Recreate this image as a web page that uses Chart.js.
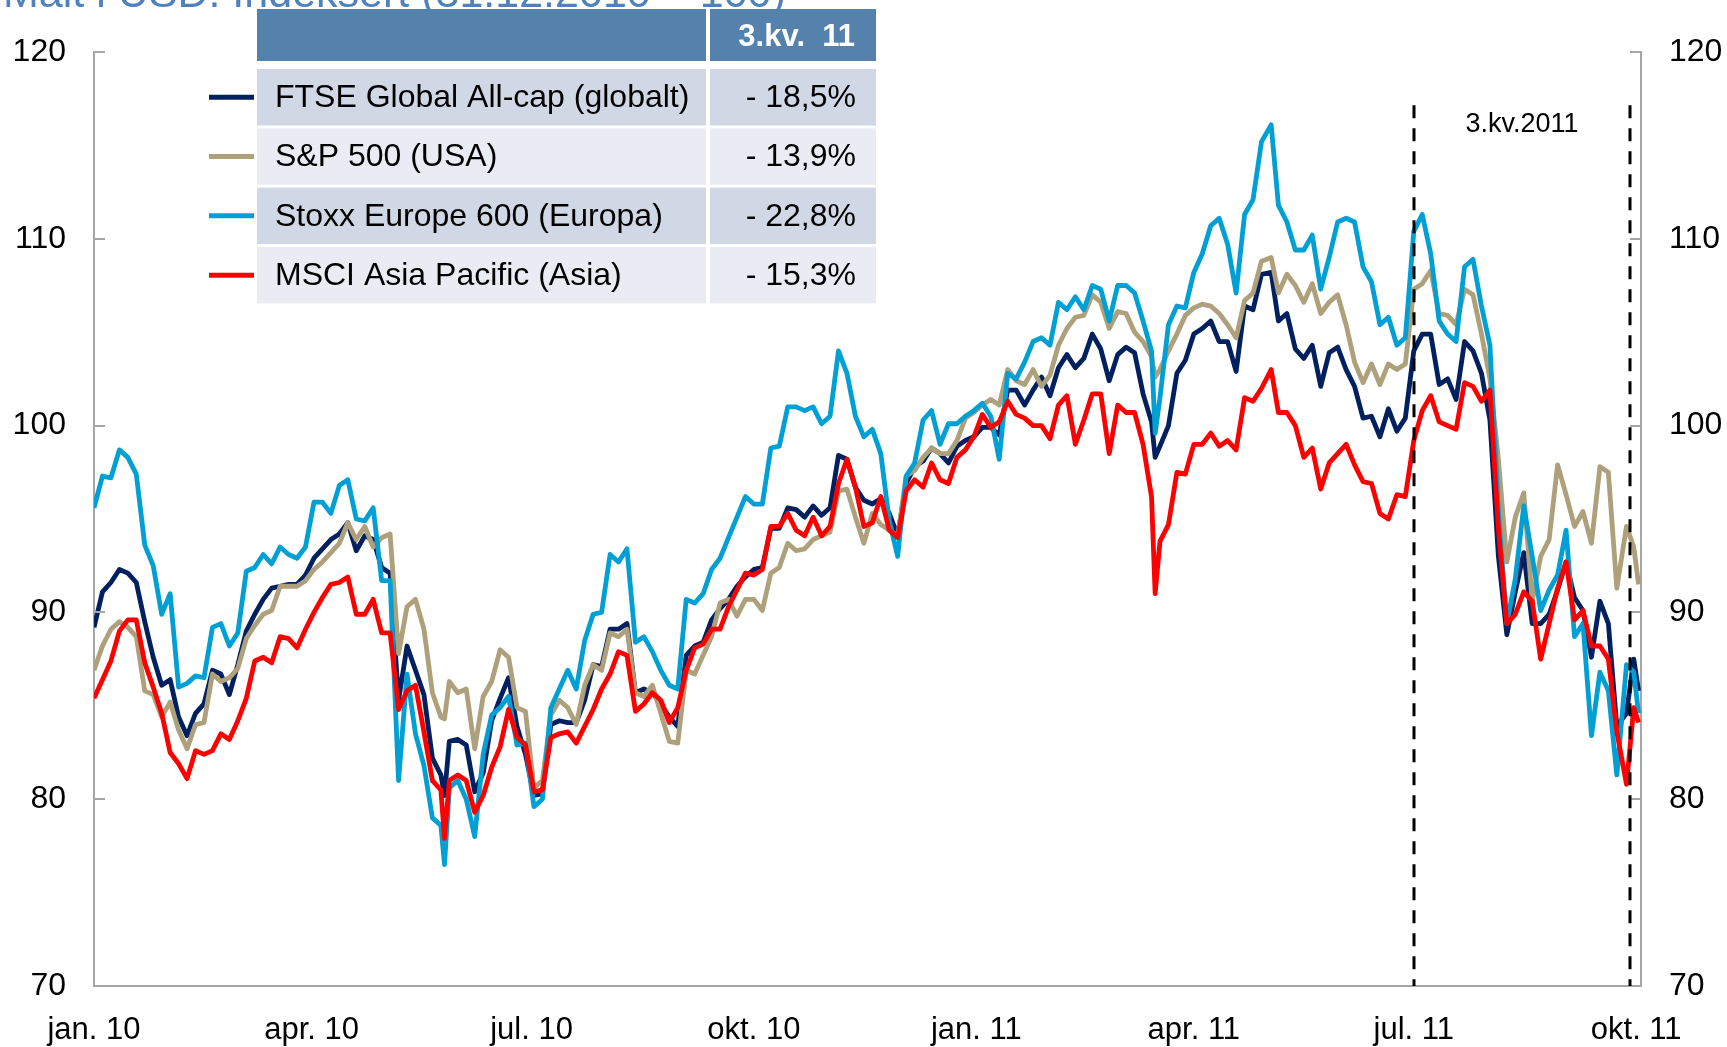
<!DOCTYPE html>
<html lang="no">
<head>
<meta charset="UTF-8">
<title>Aksjeindekser</title>
<style>
  html, body { margin: 0; padding: 0; background: #fff; }
</style>
</head>
<body>
<canvas id="chart" width="1727" height="1047"></canvas>
<script src="https://cdn.jsdelivr.net/npm/chart.js"></script>
<script>
// days since 1 Jan 2010 (about twice a week)
const days = [0, 3.5, 7, 10.5, 14, 17.5, 21, 24.5, 28, 31.5,
  35, 38.5, 42, 45.5, 49, 52.5, 56, 59.5, 63, 66.5,
  70, 73.5, 77, 80.5, 84, 87.5, 91, 94.5, 98, 101.5,
  105, 108.5, 112, 115.5, 119, 122.5, 126, 129.5, 133, 136.5,
  140, 143.5, 145, 147, 150.5, 154, 157.5, 161, 164.5, 168,
  171.5, 175, 178.5, 182, 185.5, 189, 192.5, 196, 199.5, 203,
  206.5, 210, 213.5, 217, 220.5, 224, 227.5, 231, 234.5, 238,
  241.5, 245, 248.5, 252, 255.5, 259, 262.5, 266, 269.5, 273,
  276.5, 280, 283.5, 287, 290.5, 294, 297.5, 301, 304.5, 308,
  311.5, 315, 318.5, 322, 325.5, 329, 332.5, 336, 339.5, 343,
  346.5, 350, 353.5, 357, 360.5, 364, 367.5, 371, 374.5, 378,
  381.5, 385, 388.5, 392, 395.5, 399, 402.5, 406, 409.5, 413,
  416.5, 420, 423.5, 427, 430.5, 434, 437.5, 439, 441, 444.5,
  448, 451.5, 455, 458.5, 462, 465.5, 469, 472.5, 476, 479.5,
  483, 487, 490, 493.5, 497, 500.5, 504, 507.5, 511, 514.5,
  518, 521.5, 525, 528.5, 532, 535.5, 539, 542.5, 546, 549.5,
  553, 556.5, 560, 563.5, 567, 570.5, 574, 577.5, 581, 584.5,
  588, 591.5, 595, 598.5, 602, 605.5, 609, 612.5, 616, 619.5,
  623, 626.5, 630, 634, 637, 639];

const ftse = [89.2, 91.1, 91.6, 92.3, 92.1, 91.6, 89.5, 87.6, 86.1, 86.4,
  84.4, 83.4, 84.6, 85.1, 86.9, 86.7, 85.6, 87.2, 89.0, 89.9,
  90.7, 91.3, 91.4, 91.5, 91.5, 92.0, 92.9, 93.4, 93.9, 94.2,
  94.8, 93.3, 94.1, 93.9, 92.4, 92.1, 85.3, 88.2, 86.9, 85.6,
  82.2, 81.3, 80.2, 83.1, 83.2, 82.9, 80.4, 81.4, 84.2, 85.4,
  86.5, 83.9, 82.4, 80.2, 80.3, 84.0, 84.2, 84.1, 84.1, 85.3,
  87.2, 87.1, 89.1, 89.1, 89.4, 85.7, 85.9, 85.7, 85.1, 84.4,
  83.9, 87.7, 88.2, 88.4, 89.6, 90.2, 90.7, 91.4, 91.9, 92.3,
  92.4, 94.5, 94.5, 95.6, 95.5, 95.1, 95.7, 95.2, 95.6, 98.4,
  98.2, 96.7, 96.0, 95.8, 96.1, 95.3, 94.1, 96.9, 97.8, 98.1,
  98.8, 98.5, 98.0, 98.9, 99.2, 99.4, 99.9, 99.9, 99.5, 101.9,
  101.9, 101.1, 101.9, 102.6, 101.6, 103.1, 103.8, 103.1, 103.6, 104.9,
  104.1, 102.4, 103.8, 104.2, 103.9, 101.7, 100.2, 98.3, 98.9, 100.0,
  102.8, 103.5, 104.9, 105.2, 105.6, 104.5, 104.5, 102.9, 106.4, 106.2,
  108.1, 108.2, 105.6, 106.0, 104.1, 103.6, 104.3, 102.1, 103.9, 104.2,
  103.0, 102.1, 100.4, 100.5, 99.4, 100.9, 99.7, 100.4, 104.0, 104.9,
  104.9, 102.2, 102.5, 101.4, 104.5, 104.0, 102.8, 100.3, 93.0, 88.8,
  91.1, 93.2, 89.4, 89.4, 89.9, 91.2, 92.7, 90.8, 90.1, 87.6,
  90.6, 89.4, 83.9, 84.6, 87.5, 85.8];

const sp500 = [86.9, 88.2, 89.1, 89.5, 89.2, 88.7, 85.8, 85.6, 84.4, 85.2,
  83.7, 82.7, 84.0, 84.1, 86.7, 86.3, 86.5, 87.0, 88.6, 89.3,
  89.9, 90.1, 91.4, 91.4, 91.4, 91.7, 92.3, 92.7, 93.2, 93.7,
  94.8, 93.9, 94.6, 93.5, 94.0, 94.2, 87.8, 90.3, 90.7, 89.1,
  85.7, 84.4, 84.3, 86.3, 85.7, 85.9, 82.7, 85.5, 86.3, 88.0,
  87.6, 84.9, 84.7, 80.6, 81.0, 84.5, 85.3, 84.9, 84.0, 86.1,
  87.2, 86.9, 88.9, 88.7, 89.1, 85.7, 85.5, 86.1, 84.6, 83.1,
  83.0, 86.9, 86.7, 87.7, 88.7, 90.5, 90.7, 89.8, 90.7, 90.7,
  90.1, 92.1, 92.4, 93.7, 93.3, 93.4, 93.9, 94.1, 94.3, 96.5,
  96.6, 95.1, 93.7, 95.3, 94.7, 94.4, 94.1, 97.3, 97.6, 98.3,
  98.8, 98.5, 98.5, 99.2, 100.4, 100.7, 101.1, 101.4, 101.1, 103.0,
  102.4, 102.2, 103.0, 102.1, 102.7, 104.3, 105.2, 105.8, 105.9, 107.0,
  106.6, 105.2, 106.1, 106.0, 105.0, 104.5, 103.7, 102.6, 103.0, 104.0,
  104.9, 105.9, 106.3, 106.5, 106.4, 106.0, 105.4, 104.7, 106.7, 107.1,
  108.8, 109.0, 107.1, 108.1, 107.5, 106.6, 107.6, 106.0, 106.6, 107.0,
  105.4, 103.4, 102.3, 103.3, 102.2, 103.3, 103.0, 103.3, 107.3, 107.6,
  108.3, 106.0, 105.9, 105.4, 107.3, 107.0, 104.9, 102.5, 98.2, 92.7,
  95.1, 96.4, 90.6, 93.0, 93.9, 97.9, 96.3, 94.6, 95.4, 93.7,
  97.8, 97.5, 91.3, 94.6, 93.5, 91.5];

const stoxx = [95.6, 97.3, 97.2, 98.7, 98.3, 97.4, 93.6, 92.5, 89.9, 91.0,
  86.0, 86.2, 86.6, 86.5, 89.2, 89.4, 88.2, 88.9, 92.2, 92.4,
  93.1, 92.6, 93.5, 93.1, 92.9, 93.5, 95.9, 95.9, 95.3, 96.8,
  97.1, 95.0, 94.9, 95.6, 91.7, 91.7, 81.0, 86.7, 83.5, 81.8,
  79.0, 78.6, 76.5, 80.6, 81.0, 80.0, 78.0, 82.4, 84.5, 84.9,
  85.5, 82.9, 83.0, 79.6, 80.0, 84.9, 85.9, 86.9, 85.9, 88.5,
  89.9, 90.0, 93.1, 92.7, 93.4, 88.4, 88.7, 87.9, 86.9, 86.1,
  85.9, 90.7, 90.5, 91.0, 92.3, 92.9, 94.0, 95.1, 96.2, 95.8,
  95.8, 98.8, 98.9, 101.0, 101.0, 100.8, 101.0, 100.1, 100.5, 104.0,
  102.8, 100.5, 99.4, 99.8, 98.5, 94.9, 93.0, 97.3, 98.0, 100.3,
  100.8, 99.0, 100.1, 100.1, 100.5, 100.8, 101.2, 100.5, 98.2, 102.8,
  102.5, 103.4, 104.5, 104.7, 104.3, 106.6, 106.2, 106.9, 106.2, 107.5,
  107.3, 105.6, 107.5, 107.5, 107.1, 105.6, 104.0, 99.6, 101.5, 105.4,
  106.4, 106.3, 108.2, 109.2, 110.7, 111.1, 109.7, 107.1, 111.3, 112.1,
  115.2, 116.1, 111.8, 110.9, 109.4, 109.4, 110.2, 107.3, 109.0, 110.9,
  111.1, 110.9, 108.5, 107.7, 105.4, 105.8, 104.3, 104.7, 110.4, 111.3,
  109.2, 105.6, 104.9, 104.5, 108.5, 108.9, 106.4, 104.3, 95.4, 89.4,
  91.8, 95.7, 93.0, 90.1, 91.2, 92.0, 94.4, 88.7, 89.4, 83.4,
  86.8, 85.8, 81.3, 87.2, 86.8, 84.6];

const msci = [85.4, 86.4, 87.4, 89.0, 89.6, 89.6, 87.3, 86.0, 84.6, 82.5,
  81.9, 81.1, 82.6, 82.4, 82.6, 83.5, 83.2, 84.2, 85.4, 87.4,
  87.6, 87.3, 88.7, 88.6, 88.1, 89.1, 90.0, 90.8, 91.5, 91.6,
  91.9, 89.9, 89.9, 90.7, 88.9, 88.9, 84.8, 85.8, 86.1, 83.6,
  81.0, 80.5, 77.9, 81.0, 81.3, 81.0, 79.3, 80.2, 81.7, 82.8,
  84.8, 83.3, 82.9, 80.4, 80.5, 83.3, 83.5, 83.6, 83.0, 83.9,
  84.8, 85.9, 86.7, 87.9, 87.7, 84.7, 85.1, 85.7, 85.3, 84.1,
  84.9, 86.9, 88.1, 88.3, 89.1, 89.1, 90.3, 91.2, 92.1, 92.0,
  92.3, 94.6, 94.6, 95.3, 94.4, 94.1, 95.1, 94.1, 94.6, 96.9,
  98.2, 96.7, 94.6, 94.8, 96.2, 94.4, 94.0, 96.5, 97.1, 96.7,
  98.0, 97.1, 96.9, 98.3, 98.7, 99.4, 100.6, 99.9, 100.2, 101.3,
  100.6, 100.4, 100.0, 100.0, 99.3, 101.1, 101.6, 99.0, 100.3, 101.7,
  101.7, 98.5, 101.1, 100.7, 100.7, 99.0, 96.2, 91.0, 93.8, 94.7,
  97.5, 97.4, 99.0, 99.0, 99.6, 98.9, 99.2, 98.7, 101.5, 101.3,
  102.0, 103.0, 100.7, 100.7, 100.0, 98.3, 98.8, 96.6, 98.0, 98.5,
  99.0, 97.9, 97.0, 96.9, 95.3, 95.0, 96.3, 96.2, 99.2, 100.8,
  101.6, 100.2, 100.0, 99.8, 102.3, 102.1, 101.3, 101.9, 94.5, 89.4,
  89.9, 91.1, 90.6, 87.5, 89.4, 91.3, 92.7, 89.6, 90.1, 88.2,
  88.2, 87.5, 83.6, 80.8, 84.9, 84.1];

const tickDays = [0, 90, 181, 273, 365, 455, 546, 638];
const tickLabels = ['jan. 10', 'apr. 10', 'jul. 10', 'okt. 10', 'jan. 11', 'apr. 11', 'jul. 11', 'okt. 11'];

const seriesNames = ['FTSE Global All-cap (globalt)', 'S&P 500 (USA)', 'Stoxx Europe 600 (Europa)', 'MSCI Asia Pacific (Asia)'];
const q3Change = ['- 18,5%', '- 13,9%', '- 22,8%', '- 15,3%'];
const colors = ['#002060', '#ADA07A', '#009FD4', '#FF0000'];
const quarterLines = [546, 635.5];
const quarterLabel = '3.kv.2011';
const headerLabel = '3.kv.  11';
const titleText = 'Målt i USD. Indeksert (31.12.2010 = 100)';

const FONT = "'Liberation Sans', Arial, sans-serif";
const AXIS_GREY = '#A6A6A6';

function pts(vals) {
  return days.map((d, i) => ({ x: d, y: vals[i] }));
}

const extras = {
  id: 'extras',
  afterDraw(chart) {
    const ctx = chart.ctx;
    const xs = chart.scales.x, ys = chart.scales.y;
    const area = chart.chartArea;
    ctx.save();

    // inward tick marks on both value axes
    ctx.strokeStyle = AXIS_GREY;
    ctx.lineWidth = 2;
    for (let v = 70; v <= 120; v += 10) {
      const py = Math.round(ys.getPixelForValue(v));
      ctx.beginPath();
      ctx.moveTo(area.left, py); ctx.lineTo(area.left + 11, py);
      ctx.moveTo(area.right, py); ctx.lineTo(area.right - 11, py);
      ctx.stroke();
    }

    // quarter markers
    ctx.strokeStyle = '#000';
    ctx.lineWidth = 3;
    ctx.setLineDash([13, 10]);
    quarterLines.forEach(d => {
      const px = Math.round(xs.getPixelForValue(d));
      ctx.beginPath();
      ctx.moveTo(px, ys.getPixelForValue(117.15));
      ctx.lineTo(px, area.bottom);
      ctx.stroke();
    });
    ctx.setLineDash([]);
    ctx.fillStyle = '#000';
    ctx.font = '27px ' + FONT;
    ctx.textAlign = 'center';
    ctx.textBaseline = 'alphabetic';
    const midX = (xs.getPixelForValue(quarterLines[0]) + xs.getPixelForValue(quarterLines[1])) / 2;
    ctx.fillText(quarterLabel, midX, ys.getPixelForValue(115.72));

    // cut-off heading at the top edge
    ctx.fillStyle = '#4F81BD';
    ctx.font = '43px ' + FONT;
    ctx.textAlign = 'left';
    ctx.fillText(titleText, 3, 7);

    // table legend
    ctx.fillStyle = '#5582AD';
    ctx.fillRect(257, 9, 449, 52);
    ctx.fillRect(710, 9, 166, 52);
    ctx.fillStyle = '#fff';
    ctx.font = 'bold 31px ' + FONT;
    ctx.textAlign = 'right';
    ctx.textBaseline = 'middle';
    ctx.fillText(headerLabel, 855, 37);

    for (let i = 0; i < seriesNames.length; i++) {
      const top = 69 + i * 59.3;
      const h = 56.5;
      ctx.fillStyle = i % 2 === 0 ? '#D1D8E5' : '#E9EDF3';
      ctx.fillRect(257, top, 449, h);
      ctx.fillRect(710, top, 166, h);
      const cy = top + h / 2;
      ctx.strokeStyle = colors[i];
      ctx.lineWidth = 5;
      ctx.beginPath();
      ctx.moveTo(209, cy); ctx.lineTo(254, cy);
      ctx.stroke();
      ctx.fillStyle = '#000';
      ctx.font = '32px ' + FONT;
      ctx.textAlign = 'left';
      ctx.fillText(seriesNames[i], 275, cy + 1);
      ctx.textAlign = 'right';
      ctx.fillText(q3Change[i], 856, cy + 1);
    }
    ctx.restore();
  }
};

const series = [ftse, sp500, stoxx, msci];
const datasets = series.map((vals, i) => ({
  label: seriesNames[i],
  data: pts(vals),
  borderColor: colors[i],
  borderWidth: 4.8,
  pointRadius: 0,
  tension: 0,
  fill: false,
  borderJoinStyle: 'round',
  order: 3 - i
}));

new Chart(document.getElementById('chart'), {
  type: 'line',
  data: { datasets },
  options: {
    responsive: false,
    animation: false,
    devicePixelRatio: 1,
    layout: { padding: { top: 52, left: 0, right: 0, bottom: 0 } },
    plugins: { legend: { display: false }, tooltip: { enabled: false } },
    scales: {
      x: {
        type: 'linear',
        min: 0,
        max: 640,
        afterBuildTicks: s => { s.ticks = tickDays.map(v => ({ value: v })); },
        afterFit: s => { s.height = 61; },
        grid: { display: false, drawTicks: false },
        border: { display: true, color: AXIS_GREY, width: 2 },
        ticks: {
          autoSkip: false,
          maxRotation: 0,
          padding: 26,
          color: '#000',
          font: { family: FONT, size: 31 },
          callback: v => tickLabels[tickDays.indexOf(v)]
        }
      },
      y: {
        position: 'left',
        min: 70,
        max: 120,
        afterFit: s => { s.width = 94; },
        grid: { display: false, drawTicks: false },
        border: { display: true, color: AXIS_GREY, width: 2 },
        ticks: { stepSize: 10, padding: 28, color: '#000', font: { family: FONT, size: 32 } }
      },
      y2: {
        position: 'right',
        min: 70,
        max: 120,
        afterFit: s => { s.width = 86; },
        grid: { display: false, drawTicks: false },
        border: { display: true, color: AXIS_GREY, width: 2 },
        ticks: { stepSize: 10, padding: 28, color: '#000', font: { family: FONT, size: 32 } }
      }
    }
  },
  plugins: [extras]
});
</script>
</body>
</html>
